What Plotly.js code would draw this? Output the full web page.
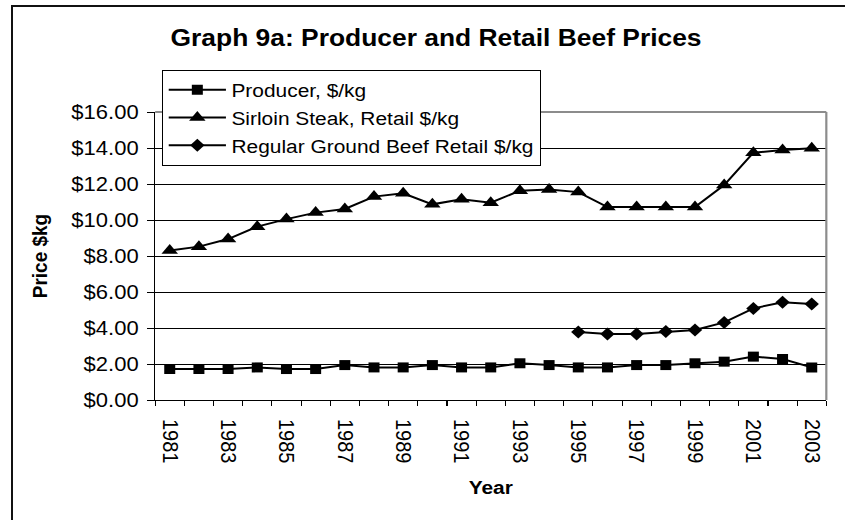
<!DOCTYPE html>
<html>
<head>
<meta charset="utf-8">
<script src="https://cdn.plot.ly/plotly-3.0.1.min.js"></script>
<style>
  html, body { margin: 0; padding: 0; background: #fff; }
  #wrap { position: relative; width: 845px; height: 520px; overflow: hidden; background: #fff; }
  #chart { position: absolute; left: 0; top: 0; width: 768px; height: 520px;
           transform: scaleX(1.1003); transform-origin: 0 0; }
  #frame { position: absolute; left: 11px; top: 5px; width: 900px; height: 600px;
           border-left: 2px solid #111; border-top: 2px solid #111; pointer-events: none; }
</style>
</head>
<body>
<div id="wrap">
  <div id="chart"></div>
  <div id="frame"></div>
</div>
<script>
const years = [1981,1982,1983,1984,1985,1986,1987,1988,1989,1990,1991,1992,
               1993,1994,1995,1996,1997,1998,1999,2000,2001,2002,2003];
const tickYears = [1981,1983,1985,1987,1989,1991,1993,1995,1997,1999,2001,2003];
const tickLabels = ["1981","1983","1985","1987","1989","1991","1993","1995","1997","1999","2001","2003"];

const producer = [1.72,1.72,1.72,1.81,1.72,1.72,1.94,1.81,1.81,1.94,1.81,1.81,
                  2.04,1.94,1.81,1.81,1.94,1.94,2.04,2.13,2.41,2.28,1.81];
const sirloin  = [8.30,8.52,8.94,9.63,10.05,10.41,10.61,11.30,11.48,10.87,11.15,10.96,
                  11.63,11.70,11.55,10.72,10.72,10.72,10.72,11.94,13.74,13.89,13.98];
const groundBeef = [null,null,null,null,null,null,null,null,null,null,null,null,
                    null,null,3.78,3.67,3.67,3.80,3.89,4.31,5.09,5.43,5.33];

const seriesNames = ["Producer, $/kg", "Sirloin Steak, Retail $/kg", "Regular Ground Beef Retail $/kg"];

const FONT = "Arial, 'Liberation Sans', sans-serif";

const boundaries = years.map(y => y - 0.5).concat([years[years.length - 1] + 0.5]);

const traces = [
  { x: years, y: producer, name: seriesNames[0], type: 'scatter', mode: 'lines+markers',
    line: { color: '#000', width: 2 }, marker: { symbol: 'square', size: 10, color: '#000' } },
  { x: years, y: sirloin, name: seriesNames[1], type: 'scatter', mode: 'lines+markers',
    line: { color: '#000', width: 2 }, marker: { symbol: 'triangle-up', size: 13, color: '#000' } },
  { x: years, y: groundBeef, name: seriesNames[2], type: 'scatter', mode: 'lines+markers',
    line: { color: '#000', width: 2 }, marker: { symbol: 'diamond', size: 10, color: '#000' },
    connectgaps: false }
];

const layout = {
  width: 768, height: 520,
  paper_bgcolor: 'rgba(0,0,0,0)', plot_bgcolor: '#fff',
  margin: { l: 141, r: 17, t: 112, b: 120 },
  font: { family: FONT, color: '#000', size: 20 },
  title: { text: '<b>Graph 9a: Producer and Retail Beef Prices</b>',
           font: { family: FONT, size: 24, color: '#000' },
           xref: 'container', yref: 'container', x: 0.516, xanchor: 'center',
           y: 0.928, yanchor: 'middle' },
  showlegend: true,
  legend: { x: 0.0104, y: 1.146, xanchor: 'left', yanchor: 'top',
            bgcolor: '#fff', bordercolor: '#000', borderwidth: 1,
            font: { family: FONT, size: 19, color: '#000' },
            itemwidth: 52, tracegroupgap: 0 },
  xaxis: {
    range: [1980.5, 2003.5], type: 'linear',
    tickmode: 'array', tickvals: tickYears, ticktext: tickLabels,
    tickangle: 90, ticks: 'outside', ticklen: 5, tickcolor: 'rgba(0,0,0,0)',
    ticklabelstandoff: 9,
    tickfont: { family: FONT, size: 20, color: '#000' },
    minor: { tickmode: 'array', tickvals: boundaries, ticks: 'outside', ticklen: 5,
             tickcolor: '#000', tickwidth: 1, showgrid: false },
    showgrid: false, zeroline: false,
    showline: true, linecolor: '#000', linewidth: 1,
    title: { text: '<b>Year</b>', font: { family: FONT, size: 19, color: '#000' }, standoff: 18 },
    fixedrange: true
  },
  yaxis: {
    range: [0, 16], tickmode: 'linear', tick0: 0, dtick: 2,
    tickprefix: '$', tickformat: '.2f',
    ticks: 'outside', ticklen: 6, tickcolor: '#000', tickwidth: 1,
    ticklabelstandoff: 4,
    tickfont: { family: FONT, size: 20, color: '#000' },
    showgrid: true, gridcolor: '#000', gridwidth: 1,
    zeroline: false, showline: true, linecolor: '#000', linewidth: 1,
    title: { text: '<b>Price $kg</b>', font: { family: FONT, size: 19, color: '#000' }, standoff: 16 },
    fixedrange: true
  },
  shapes: [
    { type: 'line', xref: 'paper', yref: 'paper', x0: 0, x1: 1, y0: 1, y1: 1,
      line: { color: '#8c8c8c', width: 2 }, layer: 'above' },
    { type: 'line', xref: 'paper', yref: 'paper', x0: 1, x1: 1, y0: 0, y1: 1,
      line: { color: '#8c8c8c', width: 2 }, layer: 'above' }
  ]
};

Plotly.newPlot('chart', traces, layout, { displayModeBar: false, staticPlot: true });
</script>
</body>
</html>
